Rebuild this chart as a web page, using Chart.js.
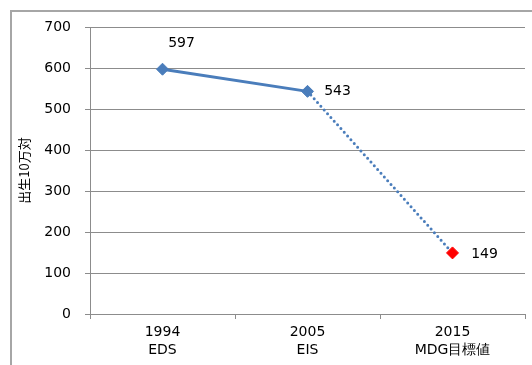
<!DOCTYPE html>
<html>
<head>
<meta charset="utf-8">
<script src="https://cdn.jsdelivr.net/npm/chart.js@4"></script>
<style>
  html, body { margin: 0; padding: 0; background: #fff; }
  #wrap { width: 532px; height: 365px; }
</style>
</head>
<body>
<div id="wrap"><canvas id="chart" width="532" height="365"></canvas></div>
<script>
// Chart data
const categories = [['1994', 'EDS'], ['2005', 'EIS'], ['2015', 'MDG目標値']];
const ratioValues = [597, 543, 149];
const yTicks = [0, 100, 200, 300, 400, 500, 600, 700];
const yTitle = '出生10万対';

const lineBlue = '#4a7dbb';
const pointColors = ['#4a7dbb', '#4a7dbb', '#ff0000'];
const gridGray = '#8c8c8c';
const tickFont = { family: 'DejaVu Sans', size: 14 };

// Outer frame, like the pasted Excel chart
const framePlugin = {
    id: 'frame',
    beforeDraw(chart) {
        const c = chart.ctx;
        c.save();
        c.strokeStyle = '#a6a6a6';
        c.lineWidth = 2;
        c.strokeRect(11, 11, 560, 400);
        c.restore();
    }
};

// Value labels next to each point
const valueLabels = {
    id: 'valueLabels',
    afterDatasetsDraw(chart) {
        const c = chart.ctx;
        const meta = chart.getDatasetMeta(0);
        const offsets = [[19, -26], [30, 0], [32, 1]];
        c.save();
        c.font = '14px "DejaVu Sans"';
        c.fillStyle = '#000';
        c.textAlign = 'center';
        c.textBaseline = 'middle';
        meta.data.forEach((pt, i) => {
            c.fillText(String(ratioValues[i]), pt.x + offsets[i][0], pt.y + offsets[i][1]);
        });
        c.restore();
    }
};

new Chart(document.getElementById('chart'), {
    type: 'line',
    data: {
        labels: categories,
        datasets: [{
            data: ratioValues,
            borderColor: lineBlue,
            borderWidth: 3,
            pointStyle: 'rectRot',
            pointRadius: 6,
            pointBackgroundColor: pointColors,
            pointBorderColor: pointColors,
            pointBorderWidth: 1,
            tension: 0,
            segment: {
                borderDash: ctx => ctx.p0DataIndex === 1 ? [0, 5] : undefined,
                borderCapStyle: ctx => ctx.p0DataIndex === 1 ? 'round' : 'butt'
            }
        }]
    },
    options: {
        responsive: false,
        animation: false,
        events: [],
        layout: { padding: { left: 0, top: 27, right: 5, bottom: 0 } },
        plugins: {
            legend: { display: false },
            tooltip: { enabled: false }
        },
        scales: {
            x: {
                offset: true,
                afterFit: s => { s.height = 51; },
                grid: {
                    offset: true,
                    drawOnChartArea: false,
                    drawTicks: true,
                    tickLength: 5,
                    color: gridGray
                },
                border: { color: gridGray, width: 1 },
                ticks: {
                    color: '#000',
                    font: { family: 'DejaVu Sans', size: 14, lineHeight: 1.29 },
                    padding: 4,
                    maxRotation: 0
                }
            },
            y: {
                min: 0,
                max: 700,
                afterFit: s => { s.width = 90; },
                afterBuildTicks: s => { s.ticks = yTicks.map(v => ({ value: v })); },
                grid: {
                    color: gridGray,
                    tickLength: 5
                },
                border: { color: gridGray, width: 1 },
                ticks: {
                    color: '#000',
                    font: tickFont,
                    padding: 14
                },
                title: {
                    display: true,
                    text: yTitle,
                    color: '#000',
                    font: { family: 'Noto Sans CJK JP', size: 13 },
                    padding: { top: 16, bottom: 0 }
                }
            }
        }
    },
    plugins: [framePlugin, valueLabels]
});
</script>
</body>
</html>
